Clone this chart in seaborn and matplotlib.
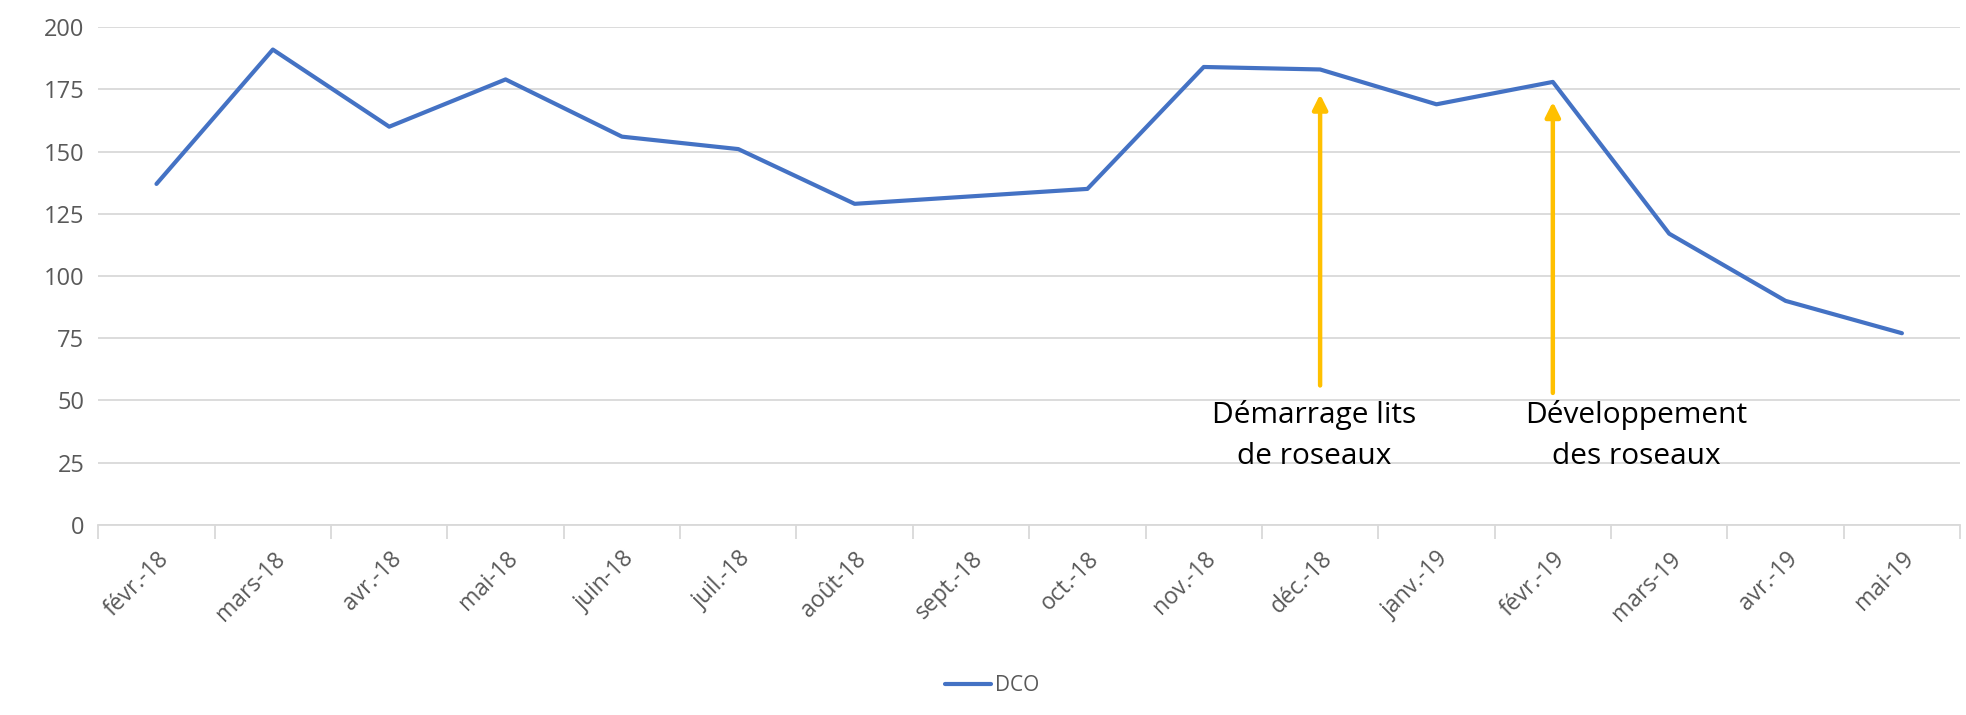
import pandas as pd
import matplotlib.pyplot as plt
import seaborn as sns
from matplotlib.ticker import FixedLocator

mois = ["févr.-18", "mars-18", "avr.-18", "mai-18", "juin-18", "juil.-18",
        "août-18", "sept.-18", "oct.-18", "nov.-18", "déc.-18", "janv.-19",
        "févr.-19", "mars-19", "avr.-19", "mai-19"]
dco = [137, 191, 160, 179, 156, 151, 129, 132, 135, 184, 183, 169, 178, 117, 90, 77]

# annotations : (mois, bas de la flèche, pointe, texte, décalage du texte)
fleches = [
    ("déc.-18", 56, 173, "Démarrage lits\nde roseaux", -0.05),
    ("févr.-19", 53, 170, "Développement\ndes roseaux", 0.72),
]

df = pd.DataFrame({"mois": mois, "DCO": dco})

sns.set_style("white")
plt.rcParams["font.family"] = ["Open Sans", "DejaVu Sans"]

fig, ax = plt.subplots(figsize=(19.66, 7.15), dpi=100)
fig.subplots_adjust(left=0.05, right=0.997, top=0.962, bottom=0.266)

sns.lineplot(data=df, x="mois", y="DCO", sort=False, color="#4472C4",
             linewidth=3, label="DCO", ax=ax)

ax.set_ylim(0, 200)
ax.set_xlim(-0.5, len(mois) - 0.5)
ax.set_yticks(range(0, 201, 25))
ax.yaxis.grid(True, color="#D9D9D9", linewidth=1.3)
ax.set_axisbelow(True)
ax.set_xlabel("")
ax.set_ylabel("")

for s in ["top", "right", "left"]:
    ax.spines[s].set_visible(False)
ax.spines["bottom"].set_color("#D9D9D9")
ax.spines["bottom"].set_linewidth(1.3)

ax.set_xticks(range(len(mois)))
ax.set_xticklabels(mois, rotation=45, ha="right", rotation_mode="anchor")
ax.tick_params(axis="x", which="major", bottom=False, length=0, labelsize=16.5,
               labelcolor="#595959", pad=16)
ax.xaxis.set_minor_locator(FixedLocator([i - 0.5 for i in range(len(mois) + 1)]))
ax.tick_params(axis="x", which="minor", bottom=True, length=10,
               color="#D9D9D9", width=1.3)
ax.tick_params(axis="y", length=0, labelsize=17, labelcolor="#595959", pad=10)

for m, bas, haut, txt, dx in fleches:
    xi = mois.index(m)
    ax.annotate("", xy=(xi, haut), xytext=(xi, bas),
                arrowprops=dict(arrowstyle="-|>", color="#FFC000", lw=3.2,
                                mutation_scale=22, shrinkA=0, shrinkB=0))
    ax.text(xi + dx, 50, txt, ha="center", va="top", fontsize=21.5,
            color="black", linespacing=1.55)

leg = ax.legend(loc="upper center", bbox_to_anchor=(0.48, -0.265), frameon=False,
                fontsize=15, handlelength=2.2, handletextpad=0.2)
for t in leg.get_texts():
    t.set_color("#595959")

fig.savefig("out.png", dpi=100)
